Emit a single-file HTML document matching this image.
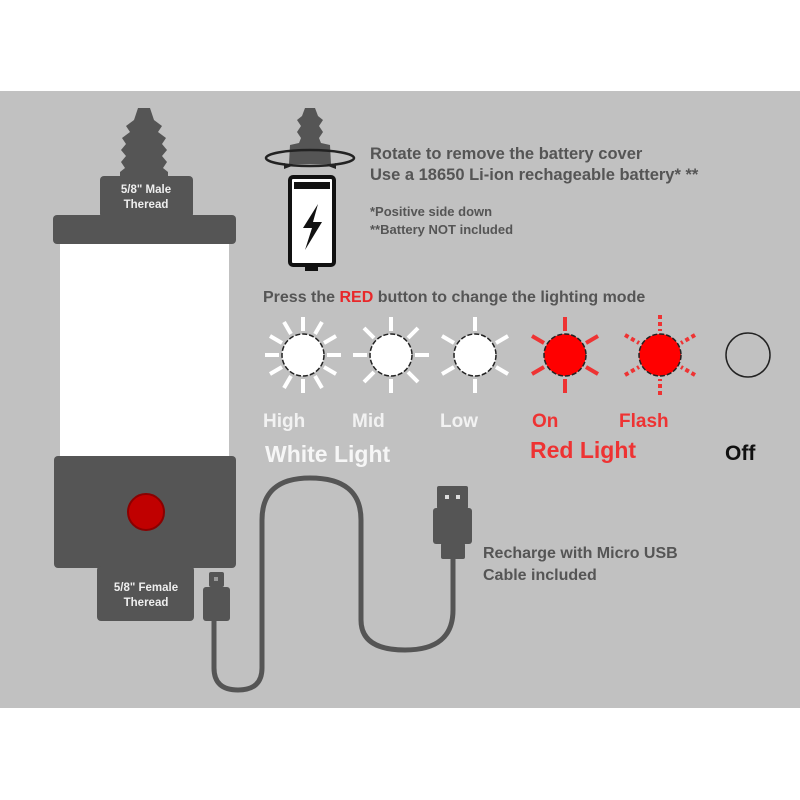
<!DOCTYPE html><html><head><style>
body{margin:0;width:800px;height:800px;background:#fff;font-family:"Liberation Sans",sans-serif;}
</style></head><body>
<svg width="800" height="800" xmlns="http://www.w3.org/2000/svg" style="display:block">
<rect x="0" y="91" width="800" height="617" fill="#c1c1c1"/>
<g fill="#555">
<path d="M138 108 L150 108 L154 120 L162 126 L158 132 L166 138 L162 144 L167 150 L162 156 L167 162 L163 168 L168 172 L168 178 L120 178 L120 172 L125 168 L121 162 L126 156 L121 150 L126 144 L122 138 L130 132 L126 126 L134 120Z"/>
<rect x="100" y="176" width="93" height="42" rx="4"/>
<rect x="53" y="215" width="183" height="29" rx="4"/>
<rect x="54" y="456" width="182" height="112" rx="4"/>
<rect x="97" y="566" width="97" height="55" rx="4"/>
<path d="M305 108 L315 108 L318 116 L323 120 L319 126 L323 132 L319 138 L321 143 L330 145 L331 164 L289 164 L290 145 L299 143 L301 138 L297 132 L301 126 L297 120 L302 116Z"/>
</g>
<ellipse cx="310" cy="158" rx="44" ry="8" fill="none" stroke="#222" stroke-width="2.5"/>
<path d="M284 163 L292 166 L284 169Z M336 163 L328 166 L336 169Z" fill="#222"/>
<rect x="60" y="244" width="169" height="212" fill="#fff"/>
<circle cx="146" cy="512" r="18" fill="#c00000" stroke="#8a0000" stroke-width="2"/>
<g fill="#eee" font-weight="bold" font-size="11.5" text-anchor="middle">
<text x="146" y="193">5/8"  Male</text><text x="146" y="208">Theread</text>
<text x="146" y="591">5/8"  Female</text><text x="146" y="606">Theread</text>
</g>
<rect x="290" y="177" width="44" height="88" rx="3" fill="#fff" stroke="#111" stroke-width="4"/>
<rect x="294" y="182" width="36" height="7" fill="#111"/>
<rect x="305" y="265" width="13" height="6" fill="#111"/>
<path d="M318 204 L303 228 L312 228 L305 250 L322 222 L313 222 Z" fill="#111"/>
<g fill="#555" font-weight="bold">
<text x="370" y="159" font-size="16.5">Rotate to remove the battery cover</text>
<text x="370" y="180" font-size="16.5">Use a 18650 Li-ion rechageable battery* **</text>
<text x="370" y="216" font-size="13">*Positive side down</text>
<text x="370" y="234" font-size="13">**Battery NOT included</text>
<text x="263" y="302" font-size="16">Press the <tspan fill="#e8282a">RED</tspan> button to change the lighting mode</text>
<text x="483" y="558" font-size="16">Recharge with Micro USB</text>
<text x="483" y="580" font-size="16">Cable included</text>
</g>
<g stroke="#fff" stroke-width="4">
<g transform="translate(303,355)"><line x1="0" y1="-38" x2="0" y2="-24"/><line x1="0" y1="38" x2="0" y2="24"/><line x1="-38" y1="0" x2="-24" y2="0"/><line x1="38" y1="0" x2="24" y2="0"/><line x1="-19" y1="-33" x2="-12" y2="-21"/><line x1="19" y1="-33" x2="12" y2="-21"/><line x1="-19" y1="33" x2="-12" y2="21"/><line x1="19" y1="33" x2="12" y2="21"/><line x1="-33" y1="-19" x2="-21" y2="-12"/><line x1="33" y1="-19" x2="21" y2="-12"/><line x1="-33" y1="19" x2="-21" y2="12"/><line x1="33" y1="19" x2="21" y2="12"/></g>
<g transform="translate(391,355)"><line x1="0" y1="-38" x2="0" y2="-24"/><line x1="0" y1="38" x2="0" y2="24"/><line x1="-38" y1="0" x2="-24" y2="0"/><line x1="38" y1="0" x2="24" y2="0"/><line x1="-27" y1="-27" x2="-17" y2="-17"/><line x1="27" y1="-27" x2="17" y2="-17"/><line x1="-27" y1="27" x2="-17" y2="17"/><line x1="27" y1="27" x2="17" y2="17"/></g>
<g transform="translate(475,355)"><line x1="0" y1="-38" x2="0" y2="-24"/><line x1="0" y1="38" x2="0" y2="24"/><line x1="-33" y1="-19" x2="-21" y2="-12"/><line x1="33" y1="-19" x2="21" y2="-12"/><line x1="-33" y1="19" x2="-21" y2="12"/><line x1="33" y1="19" x2="21" y2="12"/></g>
</g>
<g stroke="#e33" stroke-width="4">
<g transform="translate(565,355)"><line x1="0" y1="-38" x2="0" y2="-24"/><line x1="0" y1="38" x2="0" y2="24"/><line x1="-33" y1="-19" x2="-21" y2="-12"/><line x1="33" y1="-19" x2="21" y2="-12"/><line x1="-33" y1="19" x2="-21" y2="12"/><line x1="33" y1="19" x2="21" y2="12"/></g>
<g transform="translate(660,355)" stroke-dasharray="4 3"><line x1="0" y1="-40" x2="0" y2="-24"/><line x1="0" y1="40" x2="0" y2="24"/><line x1="-35" y1="-20" x2="-21" y2="-12"/><line x1="35" y1="-20" x2="21" y2="-12"/><line x1="-35" y1="20" x2="-21" y2="12"/><line x1="35" y1="20" x2="21" y2="12"/></g>
</g>
<g stroke="#222" stroke-width="1.5" stroke-dasharray="5 2">
<circle cx="303" cy="355" r="21" fill="#fff"/><circle cx="391" cy="355" r="21" fill="#fff"/><circle cx="475" cy="355" r="21" fill="#fff"/>
<circle cx="565" cy="355" r="21" fill="#f00"/><circle cx="660" cy="355" r="21" fill="#f00"/>
</g>
<circle cx="748" cy="355" r="22" fill="none" stroke="#222" stroke-width="1.5"/>
<g font-weight="bold" font-size="19">
<text x="263" y="427" fill="#f2f2f2">High</text><text x="352" y="427" fill="#f2f2f2">Mid</text><text x="440" y="427" fill="#f2f2f2">Low</text>
<text x="532" y="427" fill="#e33">On</text><text x="619" y="427" fill="#e33">Flash</text>
<text x="265" y="462" font-size="23" fill="#f6f6f6">White Light</text>
<text x="530" y="458" font-size="23" fill="#e33">Red Light</text>
<text x="725" y="460" font-size="21" fill="#111">Off</text>
</g>
<path d="M214 620 L214 668 Q214 690 238 690 Q262 690 262 668 L262 520 Q262 478 310 478 Q361 478 361 520 L361 620 Q361 650 405 650 Q453 650 453 610 L453 558" fill="none" stroke="#555" stroke-width="5"/>
<g fill="#555">
<rect x="209" y="572" width="15" height="15" rx="2"/>
<rect x="203" y="587" width="27" height="34" rx="3"/>
<rect x="437" y="486" width="31" height="23" rx="2"/>
<rect x="433" y="508" width="39" height="36" rx="3"/>
<rect x="441" y="543" width="24" height="16" rx="2"/>
</g>
<rect x="445" y="495" width="4" height="4" fill="#ddd"/><rect x="456" y="495" width="4" height="4" fill="#ddd"/>
<rect x="214" y="577" width="4" height="4" fill="#999"/>
</svg>
</body></html>
